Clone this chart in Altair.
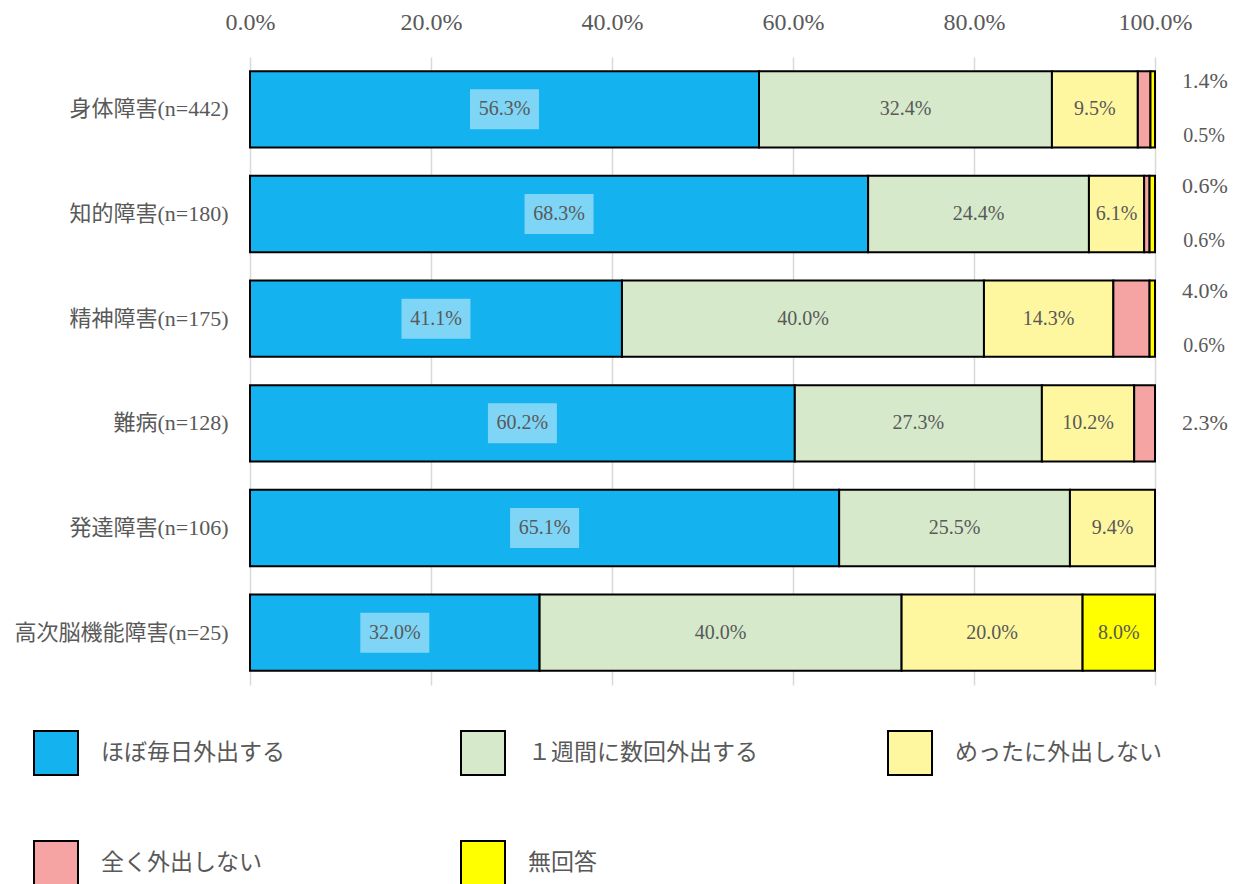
import altair as alt
import pandas as pd

categories = ["身体障害(n=442)", "知的障害(n=180)", "精神障害(n=175)",
              "難病(n=128)", "発達障害(n=106)", "高次脳機能障害(n=25)"]
series = ["ほぼ毎日外出する", "１週間に数回外出する", "めったに外出しない",
          "全く外出しない", "無回答"]
daily = [56.3, 68.3, 41.1, 60.2, 65.1, 32.0]
weekly = [32.4, 24.4, 40.0, 27.3, 25.5, 40.0]
rarely = [9.5, 6.1, 14.3, 10.2, 9.4, 20.0]
never = [1.4, 0.6, 4.0, 2.3, 0.0, 0.0]
noans = [0.5, 0.6, 0.6, 0.0, 0.0, 8.0]
colors = ["#14B2EE", "#D6E9CB", "#FFF7A0", "#F6A3A3", "#FFFF00"]

FONT = "'Liberation Serif', 'Noto Sans CJK JP', serif"
TXT = "#595959"

rows = []
for i, cat in enumerate(categories):
    vals = [daily[i], weekly[i], rarely[i], never[i], noans[i]]
    total = sum(vals)
    acc = 0.0
    both_small = never[i] > 0 and noans[i] > 0
    for j, (s, v) in enumerate(zip(series, vals)):
        start = acc / total * 100
        acc += v
        end = acc / total * 100
        if j == 3:
            opos = "upper" if both_small else "mid"
        elif j == 4:
            opos = "lower"
        else:
            opos = "none"
        rows.append(dict(cat=cat, series=s, order=j, value=v, start=start,
                         end=end, mid=(start + end) / 2,
                         label=f"{v:.1f}%", opos=opos))
df = pd.DataFrame(rows)
df = df[df.value > 0]

y_enc = alt.Y("cat:N", sort=categories, title=None,
              scale=alt.Scale(paddingInner=0.27, paddingOuter=0.135),
              axis=alt.Axis(labelFont=FONT, labelFontSize=22, labelColor=TXT,
                            labelPadding=22, ticks=False, domain=False,
                            labelLimit=400))

base = alt.Chart(df)

bars = base.mark_bar(stroke="black", strokeWidth=2).encode(
    y=y_enc,
    x=alt.X("start:Q", scale=alt.Scale(domain=[0, 100], nice=False),
            title=None,
            axis=alt.Axis(orient="top", values=[0, 20, 40, 60, 80, 100],
                          labelExpr="format(datum.value, '.1f') + '%'",
                          labelFont=FONT, labelFontSize=24, labelColor=TXT,
                          labelPadding=23, ticks=False, domain=False,
                          labelFlush=False, labelOverlap=False,
                          grid=True, gridColor="#D9D9D9", gridWidth=1.5)),
    x2="end:Q",
    color=alt.Color("series:N", scale=alt.Scale(domain=series, range=colors),
                    legend=alt.Legend(orient="none", legendX=-217, legendY=673,
                                      direction="horizontal",
                                      columns=3, title=None,
                                      symbolType="square", symbolSize=1936,
                                      symbolStrokeColor="black",
                                      symbolStrokeWidth=2, symbolOpacity=1,
                                      labelFont=FONT, labelFontSize=23,
                                      labelColor=TXT, labelOffset=22,
                                      columnPadding=126, rowPadding=58,
                                      gridAlign="all", labelLimit=400)),
    order=alt.Order("order:Q"),
)

boxes = base.transform_filter(alt.datum.order == 0).mark_point(
    shape="M-1,-0.58L1,-0.58L1,0.58L-1,0.58Z", size=4761, filled=True,
    color="white", opacity=0.45, strokeWidth=0,
).encode(y=y_enc, x=alt.X("mid:Q"))

inner = base.transform_filter(alt.datum.value >= 5).mark_text(
    font=FONT, fontSize=20, color=TXT
).encode(y=y_enc, x=alt.X("mid:Q"), text="label:N")

upper = base.transform_filter(alt.datum.opos == "upper").mark_text(
    font=FONT, fontSize=22, color=TXT, dx=50, dy=-28
).encode(y=y_enc, x=alt.datum(100), text="label:N")

outer_lower = base.transform_filter(
    (alt.datum.opos == "lower") & (alt.datum.value < 5)
).mark_text(font=FONT, fontSize=20, color=TXT, dx=49, dy=27).encode(
    y=y_enc, x=alt.datum(100), text="label:N")

mid = base.transform_filter(alt.datum.opos == "mid").mark_text(
    font=FONT, fontSize=22, color=TXT, dx=50
).encode(y=y_enc, x=alt.datum(100), text="label:N")

chart = alt.layer(bars, boxes, inner, upper, outer_lower, mid).properties(
    width=905, height=628,
    autosize=alt.AutoSizeParams(type="none"),
    padding={"left": 242, "top": 49, "right": 76, "bottom": 199},
).configure_view(stroke=None)

chart.save("out.html", embed_options={"renderer": "svg", "actions": False})
